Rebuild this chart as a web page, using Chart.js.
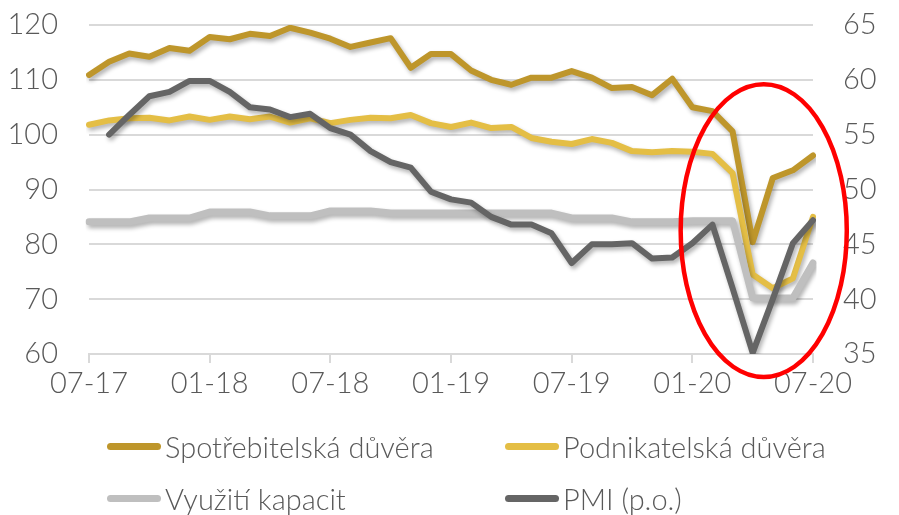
<!DOCTYPE html>
<html>
<head>
<meta charset="utf-8">
<script src="https://cdn.jsdelivr.net/npm/chart.js@4"></script>
<style>
  body { margin: 0; background: #fff; }
  #wrap { position: relative; width: 899px; height: 515px; }
  #legend { position: absolute; left: 0; top: 0; width: 899px; height: 515px; pointer-events: none;
    font-family: Lato, 'Open Sans', sans-serif; font-weight: 300; font-size: 29px; color: #595959; }
  .item { position: absolute; display: flex; align-items: center; white-space: nowrap; }
  .mark { width: 54px; height: 7px; border-radius: 4px; margin-right: 4px; }
</style>
</head>
<body>
<div id="wrap">
  <canvas id="my-chart" width="899" height="515"></canvas>
  <div id="legend"></div>
</div>
<script>
'use strict';
// data
let months = ['07-17','08-17','09-17','10-17','11-17','12-17',
  '01-18','02-18','03-18','04-18','05-18','06-18','07-18','08-18','09-18','10-18','11-18','12-18',
  '01-19','02-19','03-19','04-19','05-19','06-19','07-19','08-19','09-19','10-19','11-19','12-19',
  '01-20','02-20','03-20','04-20','05-20','06-20','07-20']
let shownTicks = ['07-17','01-18','07-18','01-19','07-19','01-20','07-20']

let spotrebitelska = [110.9,113.3,114.8,114.2,115.8,115.3,117.8,117.4,118.4,118.0,119.5,118.6,117.5,116.0,116.8,
  117.6,112.2,114.7,114.7,111.7,110.0,109.1,110.4,110.4,111.6,110.4,108.5,108.7,107.2,110.2,
  105.0,104.3,100.6,80.4,92.1,93.5,96.2]
let podnikatelska = [101.8,102.6,103.0,103.1,102.6,103.3,102.7,103.3,102.8,103.3,102.2,103.0,102.1,102.7,103.1,
  103.0,103.6,102.1,101.4,102.2,101.2,101.4,99.4,98.7,98.3,99.2,98.5,97.0,96.8,97.0,
  96.9,96.5,93.0,74.5,72.0,73.8,85.0]
let kapacity = [84.1,84.1,84.1,84.8,84.8,84.8,85.9,85.9,85.9,85.2,85.2,85.2,86.1,86.1,86.1,
  85.7,85.7,85.7,85.7,85.7,85.7,85.7,85.7,85.7,84.8,84.8,84.8,84.1,84.1,84.1,
  84.3,84.3,84.3,70.2,70.2,70.2,76.6]
let pmi = [null,55.0,56.8,58.5,58.9,59.9,59.9,58.9,57.5,57.3,56.6,56.9,55.6,55.0,53.5,
  52.5,52.0,49.8,49.1,48.8,47.5,46.8,46.8,46.0,43.3,45.0,45.0,45.1,43.7,43.8,
  45.1,46.8,41.0,35.1,40.0,45.1,47.2]

let names = ['Spotřebitelská důvěra','Podnikatelská důvěra','Využití kapacit','PMI (p.o.)']
let colors = ['#BE962B','#E4BE45','#BFBFBF','#656565']

let leftTicks = [60,120,10]   // min, max, step
let rightTicks = [35,65,5]

const txt = '#595959'
const gridCol = '#D9D9D9'
const font = { family: 'Lato', size: 29, weight: 300 }

// shadow under each line, like the excel original
const shadowPlugin = {
  id: 'shadow',
  beforeDatasetDraw(chart) {
    const ctx = chart.ctx
    ctx.save()
    ctx.shadowColor = 'rgba(0,0,0,0.3)'
    ctx.shadowBlur = 4
    ctx.shadowOffsetX = 2
    ctx.shadowOffsetY = 3
  },
  afterDatasetDraw(chart) {
    chart.ctx.restore()
  }
}

// red ring around the covid drop
const ringPlugin = {
  id: 'ring',
  afterDatasetsDraw(chart) {
    const x = chart.scales.x, y = chart.scales.y
    const cx = x.getPixelForValue(33.55)
    const rx = x.getPixelForValue(33.55 + 4.13) - cx
    const cy = y.getPixelForValue(82.5)
    const ry = y.getPixelForValue(82.5 - 26.7) - cy
    const ctx = chart.ctx
    ctx.save()
    ctx.strokeStyle = '#FF0000'
    ctx.lineWidth = 4.5
    ctx.beginPath()
    ctx.ellipse(cx, cy, rx, ry, 0, 0, Math.PI * 2)
    ctx.stroke()
    ctx.restore()
  }
}

function makeSet(i, data, axis, width, order) {
  return {
    label: names[i],
    data: data,
    yAxisID: axis,
    borderColor: colors[i],
    backgroundColor: colors[i],
    borderWidth: width,
    pointRadius: 0,
    tension: 0,
    borderJoinStyle: 'round',
    borderCapStyle: 'round',
    order: order
  }
}

// fixed side widths, and no extra top/bottom space from the tick padding
function sideFit(w) {
  return function (s) {
    s.width = w
    s.paddingTop = 0
    s.paddingBottom = 0
  }
}

const ctx = document.getElementById('my-chart').getContext('2d')
const myChart = new Chart(ctx, {
  type: 'line',
  data: {
    labels: months,
    datasets: [
      makeSet(0, spotrebitelska, 'y', 6, 3),
      makeSet(1, podnikatelska, 'y', 6, 2),
      makeSet(2, kapacity, 'y', 7, 1),
      makeSet(3, pmi, 'y2', 6, 0)
    ]
  },
  options: {
    responsive: false,
    animation: false,
    devicePixelRatio: 1,
    layout: { padding: { top: 25, bottom: 101, left: 0, right: 0 } },
    plugins: { legend: { display: false }, tooltip: { enabled: false } },
    scales: {
      x: {
        afterFit(s) { s.height = 60 },
        border: { display: true, color: gridCol, width: 2 },
        grid: { drawOnChartArea: false, drawTicks: true, tickLength: 9, color: gridCol, lineWidth: 2 },
        ticks: {
          autoSkip: false, maxRotation: 0, color: txt, font: font, padding: 3,
          callback(v) {
            let l = months[v]
            return shownTicks.includes(l) ? l : null
          }
        }
      },
      y: {
        position: 'left',
        min: leftTicks[0], max: leftTicks[1],
        afterFit: sideFit(89),
        border: { display: false },
        grid: { color: gridCol, lineWidth: 2, drawTicks: false },
        ticks: { stepSize: leftTicks[2], color: txt, font: font, padding: 31 }
      },
      y2: {
        position: 'right',
        min: rightTicks[0], max: rightTicks[1],
        afterFit: sideFit(86),
        border: { display: false },
        grid: { drawOnChartArea: false, drawTicks: false },
        ticks: { stepSize: rightTicks[2], color: txt, font: font, padding: 30 }
      }
    }
  },
  plugins: [shadowPlugin, ringPlugin]
})

// html legend in two columns
let legendPos = [[107, 446], [505, 446], [107, 498], [505, 498]]
let legendBox = document.getElementById('legend')
for (let i = 0; i < names.length; i++) {
  let item = document.createElement('div')
  item.className = 'item'
  item.style.left = legendPos[i][0] + 'px'
  item.style.top = (legendPos[i][1] - 20) + 'px'
  item.style.height = '40px'
  let mark = document.createElement('span')
  mark.className = 'mark'
  mark.style.background = colors[i]
  let label = document.createElement('span')
  label.textContent = names[i]
  item.appendChild(mark)
  item.appendChild(label)
  legendBox.appendChild(item)
}
</script>
</body>
</html>
